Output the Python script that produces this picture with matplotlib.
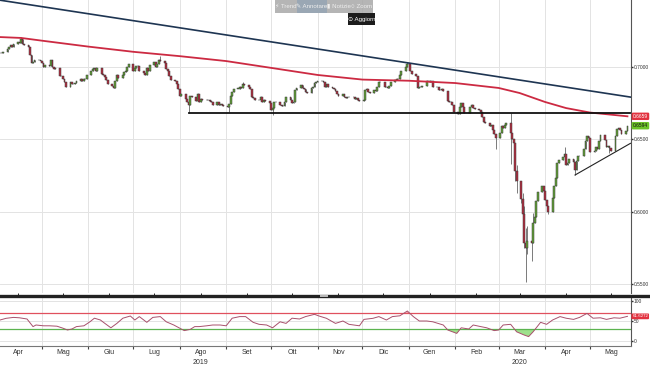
import numpy as np
import pandas as pd
import matplotlib
matplotlib.use("Agg")
import matplotlib.pyplot as plt
import matplotlib.dates as mdates
from matplotlib.patches import Rectangle
from matplotlib.lines import Line2D

FONT = ["Liberation Sans Narrow", "Liberation Sans", "DejaVu Sans"]
plt.rcParams["font.family"] = FONT

# ---------------- data (AUD/USD daily) ----------------
start_date = "2019-04-03"
first_open = 0.7095
apr19 = [0.7100, 0.7095, 0.7105, 0.7125, 0.7140, 0.7150, 0.7135, 0.7160, 0.7170, 0.7165,
         0.7195, 0.7160, 0.7150, 0.7135, 0.7085, 0.7025, 0.7035, 0.7050, 0.7045, 0.7040]
may19 = [0.7025, 0.7000, 0.7015, 0.7010, 0.7045, 0.7000, 0.6985, 0.6995, 0.6940, 0.6935,
         0.6920, 0.6895, 0.6865, 0.6895, 0.6885, 0.6880, 0.6890, 0.6905, 0.6915, 0.6905,
         0.6915, 0.6920, 0.6945]
jun19 = [0.6975, 0.6985, 0.6995, 0.6970, 0.6995, 0.6955, 0.6945, 0.6930, 0.6910, 0.6885,
         0.6870, 0.6855, 0.6905, 0.6945, 0.6925, 0.6945, 0.6965, 0.6975, 0.7000, 0.7020]
jul19 = [0.6975, 0.6990, 0.7010, 0.7005, 0.6975, 0.6960, 0.6945, 0.6990, 0.6975, 0.7015,
         0.7035, 0.7000, 0.7020, 0.7045, 0.7040, 0.7030, 0.6985, 0.6975, 0.6940, 0.6910,
         0.6900, 0.6880, 0.6845]
aug19 = [0.6800, 0.6810, 0.6780, 0.6755, 0.6740, 0.6800, 0.6790, 0.6765, 0.6810, 0.6760,
         0.6780, 0.6770, 0.6770, 0.6770, 0.6765, 0.6760, 0.6735, 0.6760, 0.6740, 0.6745,
         0.6740, 0.6730]
sep19 = [0.6720, 0.6745, 0.6800, 0.6830, 0.6850, 0.6850, 0.6860, 0.6855, 0.6880, 0.6875,
         0.6860, 0.6845, 0.6795, 0.6785, 0.6775, 0.6770, 0.6790, 0.6760, 0.6770, 0.6765,
         0.6750]
oct19 = [0.6700, 0.6715, 0.6755, 0.6755, 0.6740, 0.6730, 0.6730, 0.6760, 0.6790, 0.6770,
         0.6750, 0.6755, 0.6840, 0.6855, 0.6875, 0.6855, 0.6850, 0.6830, 0.6820, 0.6855,
         0.6865, 0.6890, 0.6895]
nov19 = [0.6905, 0.6905, 0.6895, 0.6865, 0.6880, 0.6860, 0.6855, 0.6850, 0.6835, 0.6810,
         0.6800, 0.6815, 0.6795, 0.6785, 0.6790, 0.6795, 0.6790, 0.6780, 0.6785, 0.6770,
         0.6765]
dec19 = [0.6770, 0.6840, 0.6850, 0.6830, 0.6820, 0.6840, 0.6835, 0.6865, 0.6895, 0.6895,
         0.6860, 0.6860, 0.6855, 0.6870, 0.6895, 0.6910, 0.6915, 0.6920, 0.6945, 0.6975,
         0.7000, 0.7020]
jan20 = [0.7020, 0.6970, 0.6950, 0.6940, 0.6855, 0.6860, 0.6860, 0.6870, 0.6905, 0.6900,
         0.6895, 0.6900, 0.6860, 0.6865, 0.6840, 0.6840, 0.6850, 0.6835, 0.6765, 0.6760,
         0.6755, 0.6735, 0.6690]
feb20 = [0.6675, 0.6720, 0.6750, 0.6720, 0.6680, 0.6680, 0.6720, 0.6735, 0.6715, 0.6710,
         0.6705, 0.6690, 0.6655, 0.6620, 0.6615, 0.6590, 0.6600, 0.6565, 0.6535, 0.6510]
mar20 = [0.6545, 0.6590, 0.6580, 0.6600, 0.6610, 0.6545, 0.6505, 0.6475, 0.6280, 0.6210,
         0.6090, 0.5985, 0.5780, 0.5750, 0.5800, 0.5780, 0.5920, 0.5960, 0.6070, 0.6135,
         0.6175, 0.6140]
apr20 = [0.6080, 0.6040, 0.5995, 0.6095, 0.6175, 0.6230, 0.6335, 0.6355, 0.6375, 0.6400,
         0.6325, 0.6335, 0.6365, 0.6345, 0.6285, 0.6350, 0.6385, 0.6385, 0.6435, 0.6490,
         0.6520, 0.6510]
may20 = [0.6410, 0.6420, 0.6450, 0.6430, 0.6485, 0.6530, 0.6495, 0.6450, 0.6455, 0.6440,
         0.6420, 0.6525, 0.6570, 0.6580, 0.6565, 0.6540, 0.6560, 0.6594]

extreme_highs = {"2019-04-17": 0.7207, "2019-07-19": 0.7075, "2019-09-12": 0.6895,
                 "2019-12-31": 0.7032, "2020-03-09": 0.6680, "2020-03-13": 0.6320,
                 "2020-03-16": 0.6215, "2020-03-17": 0.6130, "2020-03-18": 0.6040,
                 "2020-03-19": 0.5890, "2020-03-20": 0.5900, "2020-03-23": 0.5890,
                 "2020-03-24": 0.5990, "2020-04-14": 0.6445}
extreme_lows = {"2019-08-07": 0.6680, "2019-09-03": 0.6690, "2019-10-02": 0.6671,
                "2020-02-28": 0.6434, "2020-03-09": 0.6330, "2020-03-12": 0.6215,
                "2020-03-13": 0.6130, "2020-03-16": 0.6060, "2020-03-17": 0.5950,
                "2020-03-18": 0.5750, "2020-03-19": 0.5510, "2020-03-20": 0.5705,
                "2020-03-23": 0.5660, "2020-04-03": 0.5980, "2020-04-21": 0.6255,
                "2020-05-14": 0.6405}

# 200-day moving average (red), read at dates
ma_dates = ["2019-04-03", "2019-04-17", "2019-05-01", "2019-06-01", "2019-07-01", "2019-08-01",
            "2019-09-01", "2019-10-01", "2019-11-01", "2019-12-01", "2020-01-01", "2020-02-01",
            "2020-03-01", "2020-03-15", "2020-04-01", "2020-04-15", "2020-05-01", "2020-05-26"]
ma_values = [0.7207, 0.7201, 0.7182, 0.7141, 0.7105, 0.7075, 0.7041, 0.6994, 0.6945, 0.6913,
             0.6905, 0.6889, 0.6855, 0.6820, 0.6758, 0.6716, 0.6685, 0.6659]

# drawn trend lines
down_trend_dates = ["2019-04-03", "2020-05-28"]
down_trend_values = [0.7462, 0.6792]
support_dates = ["2019-08-07", "2020-05-28"]
support_values = [0.6683, 0.6683]
up_trend_dates = ["2020-04-21", "2020-05-28"]
up_trend_values = [0.6253, 0.6472]

# RSI (14)
rsi_dates = ["2019-04-03", "2019-04-07", "2019-04-12", "2019-04-16", "2019-04-21", "2019-04-25",
             "2019-04-27", "2019-05-02", "2019-05-06", "2019-05-11", "2019-05-15", "2019-05-18",
             "2019-05-21", "2019-05-24", "2019-05-29", "2019-06-02", "2019-06-05", "2019-06-09",
             "2019-06-12", "2019-06-16", "2019-06-20", "2019-06-24", "2019-06-29", "2019-07-02",
             "2019-07-05", "2019-07-10", "2019-07-14", "2019-07-19", "2019-07-23", "2019-07-28",
             "2019-08-01", "2019-08-04", "2019-08-08", "2019-08-11", "2019-08-14", "2019-08-19",
             "2019-08-23", "2019-08-28", "2019-09-01", "2019-09-05", "2019-09-10", "2019-09-14",
             "2019-09-19", "2019-09-23", "2019-09-28", "2019-10-02", "2019-10-07", "2019-10-11",
             "2019-10-15", "2019-10-20", "2019-10-24", "2019-10-30", "2019-11-02", "2019-11-07",
             "2019-11-13", "2019-11-18", "2019-11-22", "2019-11-29", "2019-12-02", "2019-12-08",
             "2019-12-12", "2019-12-17", "2019-12-21", "2019-12-26", "2019-12-31", "2020-01-04",
             "2020-01-08", "2020-01-13", "2020-01-17", "2020-01-24", "2020-01-27", "2020-02-02",
             "2020-02-05", "2020-02-10", "2020-02-13", "2020-02-18", "2020-02-22", "2020-02-27",
             "2020-03-01", "2020-03-04", "2020-03-09", "2020-03-13", "2020-03-18", "2020-03-21",
             "2020-03-24", "2020-03-29", "2020-04-02", "2020-04-06", "2020-04-11", "2020-04-15",
             "2020-04-20", "2020-04-24", "2020-04-29", "2020-05-03", "2020-05-08", "2020-05-12",
             "2020-05-17", "2020-05-21", "2020-05-26"]
rsi_values = [52.5, 56.7, 59, 58, 55, 36, 40, 38, 38, 37, 32, 27.5,
              30, 36, 38, 48, 57, 52.5, 44, 33, 44, 57, 62.5, 52.5,
              61, 46.7, 59, 61, 48, 40, 32, 26, 29, 36, 36, 38,
              40, 40, 38, 57, 61, 61, 46.7, 41.7, 40, 33, 48, 44,
              57, 55, 61, 66.7, 62.5, 56.7, 44, 50, 41.7, 38, 54, 56.7,
              61, 52.5, 61, 63, 75, 61, 50, 50, 48, 40, 27.5, 19,
              33, 30, 40, 36, 33, 26, 27.5, 40, 41.7, 23, 15, 11,
              23, 46.7, 41.7, 52.5, 61, 57, 54, 59, 69, 57, 58, 54,
              58, 57, 61.6272]

price_ticks = [0.5500, 0.6000, 0.6500, 0.7000]
rsi_ticks = [0, 50, 100]
month_labels = ["Apr", "Mag", "Giu", "Lug", "Ago", "Set", "Ott", "Nov", "Dic",
                "Gen", "Feb", "Mar", "Apr", "Mag"]
year_labels = {"2019-08-15": "2019", "2020-03-15": "2020"}
ma_tag = "0.6659"
last_tag = "0.6594"
rsi_tag = "61.6272"

# ---------------- build OHLC ----------------
closes = np.array(apr19 + may19 + jun19 + jul19 + aug19 + sep19 + oct19 + nov19 + dec19 +
                  jan20 + feb20 + mar20 + apr20 + may20)
dates = pd.bdate_range(start_date, periods=len(closes))
opens = np.concatenate([[first_open], closes[:-1]])
highs = np.maximum(opens, closes)
lows = np.minimum(opens, closes)
idx = {d.strftime("%Y-%m-%d"): i for i, d in enumerate(dates)}
for d, v in extreme_highs.items():
    if d in idx:
        highs[idx[d]] = max(highs[idx[d]], v)
for d, v in extreme_lows.items():
    if d in idx:
        lows[idx[d]] = min(lows[idx[d]], v)
xd = mdates.date2num(dates)

# ---------------- figure ----------------
W, H = 650, 366
fig = plt.figure(figsize=(6.5, 3.66), dpi=100)
fig.patch.set_facecolor("white")

def fx(p):
    return p / W

def fy(p):
    return 1 - p / H

ax = fig.add_axes([0, fy(293), fx(631), 293 / H])
axr = fig.add_axes([0, fy(346), fx(631), (346 - 298) / H], sharex=ax)

x0 = mdates.date2num(pd.Timestamp("2019-05-01"))
ax.set_xlim(x0 - 42 / 1.4973, x0 + (631 - 42) / 1.4973)
ax.set_ylim(0.7 - 226 / 1446, 0.7 + 67 / 1446)
axr.set_ylim(-12.5, 107.5)

LBL = 3.5
grid_c = "#e3e3e3"
month_starts = pd.date_range("2019-05-01", "2020-05-01", freq="MS")
for a in (ax, axr):
    for m in month_starts:
        a.axvline(mdates.date2num(m), color=grid_c, lw=0.7, zorder=0)
    for s in ["top", "left", "bottom"]:
        a.spines[s].set_visible(False)
    a.spines["right"].set_color("#555555")
    a.spines["right"].set_linewidth(0.8)
    a.yaxis.tick_right()
    a.tick_params(axis="y", length=1.2, width=1.0, color="#333333", pad=0.5,
                  labelsize=LBL, labelcolor="#333333")
for t in price_ticks:
    ax.axhline(t, color=grid_c, lw=0.7, zorder=0)
ax.set_yticks(price_ticks)
ax.set_yticklabels([f"{t:.4f}" for t in price_ticks])
ax.tick_params(axis="x", bottom=False, labelbottom=False)

# candles
up = closes >= opens
body_c = np.where(up, "#62a038", "#b22e40")
ax.vlines(xd, lows, highs, color="#7a7a7a", lw=0.7, zorder=2)
ax.bar(xd, np.where(np.abs(closes - opens) < 1e-5, 0.00015, closes - opens), bottom=opens,
       width=1.25, color=body_c, edgecolor="#3a3a3a", linewidth=0.35, zorder=3)

# lines
ax.plot(mdates.date2num(pd.to_datetime(ma_dates)), ma_values, color="#cc2a42", lw=1.3, zorder=4)
ax.plot(mdates.date2num(pd.to_datetime(down_trend_dates)), down_trend_values,
        color="#1e3552", lw=1.2, zorder=4)
ax.plot(mdates.date2num(pd.to_datetime(support_dates)), support_values,
        color="#111111", lw=1.3, zorder=4)
ax.plot(mdates.date2num(pd.to_datetime(up_trend_dates)), up_trend_values,
        color="#222222", lw=0.8, zorder=4)

# price tags
tag_kw = dict(transform=ax.get_yaxis_transform(), fontsize=LBL, va="center", ha="left",
              clip_on=False, zorder=20)
ax.text(1.003, float(ma_tag), ma_tag, color="white",
        bbox=dict(boxstyle="round,pad=0.25,rounding_size=0.25", fc="#e2323f", ec="none"), **tag_kw)
ax.text(1.003, float(last_tag), last_tag, color="#111111",
        bbox=dict(boxstyle="round,pad=0.25,rounding_size=0.25", fc="#6cc42a", ec="none"), **tag_kw)

# RSI panel
rd = mdates.date2num(pd.to_datetime(rsi_dates))
rv = np.array(rsi_values)
axr.axhline(50, color=grid_c, lw=0.7, zorder=0)
axr.axhline(100, color=grid_c, lw=0.7, zorder=0)
axr.axhline(0, color=grid_c, lw=0.7, zorder=0)
axr.axhline(70, color="#e0505e", lw=0.9, zorder=2)
axr.axhline(30, color="#5cb450", lw=0.9, zorder=2)
axr.fill_between(rd, rv, 30, where=rv < 30, interpolate=True, color="#9ee08c", lw=0, zorder=1)
axr.fill_between(rd, rv, 70, where=rv > 70, interpolate=True, color="#f3a0a8", lw=0, zorder=1)
axr.plot(rd, rv, color="#a8506c", lw=0.7, zorder=3)
axr.set_yticks(rsi_ticks)
axr.set_yticklabels([str(t) for t in rsi_ticks])
axr.spines["bottom"].set_visible(True)
axr.spines["bottom"].set_color("#777777")
axr.spines["bottom"].set_linewidth(0.8)
axr.text(1.002, rsi_values[-1], rsi_tag, color="white", transform=axr.get_yaxis_transform(),
         fontsize=3.2, va="center", ha="left", clip_on=False, zorder=20,
         bbox=dict(boxstyle="round,pad=0.2,rounding_size=0.2", fc="#e2323f", ec="none"))

# x axis: month starts ticks, month names at mid-month
axr.set_xticks(mdates.date2num(month_starts))
axr.set_xticklabels([])
mid_months = pd.date_range("2019-04-01", "2020-05-01", freq="MS") + pd.Timedelta(days=14)
axr.set_xticks(mdates.date2num(mid_months), minor=True)
axr.set_xticklabels(month_labels, minor=True)
axr.tick_params(axis="x", which="major", length=2.5, width=0.8, color="#444444")
axr.tick_params(axis="x", which="minor", length=0, labelsize=5, labelcolor="#333333", pad=2.5)
for d, lab in year_labels.items():
    axr.annotate(lab, xy=(mdates.date2num(pd.Timestamp(d)), 0), xycoords=("data", "axes fraction"),
                 xytext=(0, -12), textcoords="offset points", ha="center", va="center",
                 fontsize=5, color="#333333", annotation_clip=False)

# separator bar between panels
fig.add_artist(Line2D([0, 1], [fy(295.8), fy(295.8)], transform=fig.transFigure,
                      color="#222222", lw=2.4, zorder=5))
fig.add_artist(Rectangle((fx(320), fy(297)), fx(8), 2.4 / H, transform=fig.transFigure,
                         fc="#b8b8b8", ec="none", zorder=6))

# toolbar overlay
fig.add_artist(Rectangle((fx(275), fy(12.5)), fx(98), 12.5 / H, transform=fig.transFigure,
                         fc="#a8a8a8", ec="none", alpha=0.85, zorder=10))
fig.add_artist(Rectangle((fx(297), fy(12.5)), fx(30), 12.5 / H, transform=fig.transFigure,
                         fc="#98a6b4", ec="none", alpha=0.9, zorder=11))
tb_kw = dict(fontsize=4.4, color="#eeeeee", va="center", ha="center", zorder=12,
             family=FONT)
fig.text(fx(286), fy(6.3), "\u26a1 Trend", **tb_kw)
fig.text(fx(312), fy(6.3), "\u270e Annotare", **tb_kw)
fig.text(fx(338.5), fy(6.3), "\u25ae Notizie", **tb_kw)
fig.text(fx(361.5), fy(6.3), "\u25cb Zoom", **tb_kw)
fig.add_artist(Rectangle((fx(348), fy(25)), fx(27), 12 / H, transform=fig.transFigure,
                         fc="#1c1c1c", ec="none", zorder=10))
fig.text(fx(361.5), fy(19), "\u2299 Aggiorn", fontsize=4.4, color="white", va="center",
         ha="center", zorder=12, family=FONT)

fig.savefig("out.png", dpi=100)
